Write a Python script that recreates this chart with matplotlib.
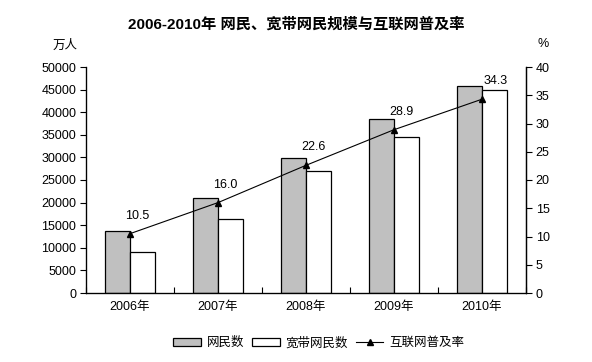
import matplotlib
matplotlib.use("Agg")
import matplotlib.pyplot as plt
import numpy as np
from matplotlib.patches import Patch
from matplotlib.lines import Line2D

plt.rcParams['font.family'] = ['Liberation Sans', 'Noto Sans CJK SC', 'DejaVu Sans']

years = ['2006年', '2007年', '2008年', '2009年', '2010年']
netizens = [13700, 21000, 29800, 38400, 45730]
broadband = [9070, 16400, 27000, 34600, 45000]
penetration = [10.5, 16.0, 22.6, 28.9, 34.3]
left_ticks = [0, 5000, 10000, 15000, 20000, 25000, 30000, 35000, 40000, 45000, 50000]
right_ticks = [0, 5, 10, 15, 20, 25, 30, 35, 40]

fig = plt.figure(figsize=(5.92, 3.62), dpi=100)
ax = fig.add_axes([86/592, 1-293/362, 440/592, 226/362])
x = np.arange(len(years))
w = 0.284
ax.bar(x - w/2, netizens, w, color='#C0C0C0', edgecolor='black', linewidth=0.9)
ax.bar(x + w/2, broadband, w, color='white', edgecolor='black', linewidth=0.9)
ax.set_xlim(-0.5, len(years) - 0.5)
ax.set_ylim(0, 50000)
ax.set_yticks(left_ticks)
ax.set_yticklabels([str(v) for v in left_ticks], fontsize=9)
ax.set_xticks(x)
ax.set_xticklabels(years, fontsize=9)
ax.tick_params(axis='x', length=0, pad=6)
ax.set_xticks(np.arange(len(years) + 1) - 0.5, minor=True)
ax.tick_params(axis='x', which='minor', direction='in', length=4, width=0.8)
ax.tick_params(axis='y', direction='out', length=4, width=0.8, pad=3)
ax.spines['top'].set_visible(False)
for s in ['left', 'bottom', 'right']:
    ax.spines[s].set_linewidth(0.9)

ax2 = ax.twinx()
ax2.plot(x, penetration, color='black', linewidth=0.8, marker='^', markersize=5)
ax2.set_ylim(0, 40)
ax2.set_yticks(right_ticks)
ax2.set_yticklabels([str(v) for v in right_ticks], fontsize=9)
ax2.tick_params(axis='y', direction='out', length=4, width=0.8, pad=3)
ax2.spines['top'].set_visible(False)
ax2.spines['right'].set_linewidth(0.9)
for xi, p in zip(x, penetration):
    dx = 14 if xi == len(years) - 1 else 7
    ax2.annotate(f'{p:.1f}', (xi, p), xytext=(dx, 12), textcoords='offset pixels',
                 ha='center', va='bottom', fontsize=9)

fig.text(296/592, 1-24/362, '2006-2010年 网民、宽带网民规模与互联网普及率', ha='center', va='center',
         fontsize=11, fontweight='bold')
fig.text(65/592, 1-46/362, '万人', ha='center', va='center', fontsize=9)
fig.text(543/592, 1-44/362, '%', ha='center', va='center', fontsize=9)

handles = [Patch(facecolor='#C0C0C0', edgecolor='black', linewidth=0.9),
           Patch(facecolor='white', edgecolor='black', linewidth=0.9),
           Line2D([0], [0], color='black', linewidth=0.8, marker='^', markersize=5)]
fig.legend(handles, ['网民数', '宽带网民数', '互联网普及率'], loc='center', bbox_to_anchor=(319/592, 1-343/362),
           ncol=3, frameon=False, fontsize=9, handlelength=2.2, handleheight=0.6, handletextpad=0.5,
           columnspacing=0.6)

fig.savefig('out.png', dpi=100)
